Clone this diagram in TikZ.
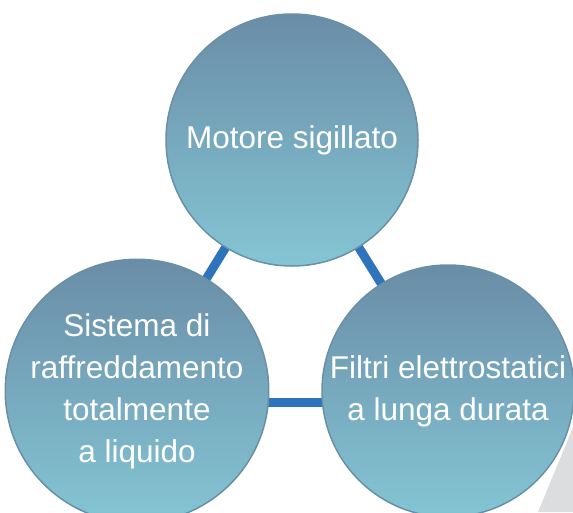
\documentclass[tikz,border=0pt]{standalone}
\usepackage{fontspec}
\setmainfont{Liberation Sans}
\usetikzlibrary{backgrounds}

\definecolor{bubtop}{HTML}{6A8DA7}
\definecolor{bubbot}{HTML}{84C5D4}
\definecolor{bubrim}{HTML}{6990A5}
\definecolor{linkblue}{HTML}{2D74BC}
\definecolor{shadowgrey}{HTML}{DCDDDF}

\tikzset{
  bubble/.style={circle, draw=bubrim, line width=1.5pt, top color=bubtop, bottom color=bubbot,
    minimum size=252pt, inner sep=0pt, text=white, align=center,
    font=\fontsize{31.5}{42}\selectfont},
  link/.style={linkblue, line width=9pt}
}

\begin{document}
\begin{tikzpicture}[x=1pt,y=-1pt]

  \useasboundingbox (0,0) rectangle (573,512);

  \node[bubble] (motor) at (292,140) {Motore sigillato};
  \node[bubble] (cooling) at (137,391) {Sistema di\\raffreddamento\\totalmente\\a liquido};
  \node[bubble] (filters) at (448,391) {Filtri elettrostatici\\a lunga durata};

  \begin{scope}[on background layer]
    \fill[shadowgrey] (576,420) -- (538,512) -- (576,512) -- cycle;
    \draw[link] (motor.center) -- (cooling.center);
    \draw[link] (motor.center) -- (filters.center);
    \draw[link] ([yshift=-11pt]cooling.center) -- ([yshift=-11pt]filters.center);
  \end{scope}

\end{tikzpicture}
\end{document}
